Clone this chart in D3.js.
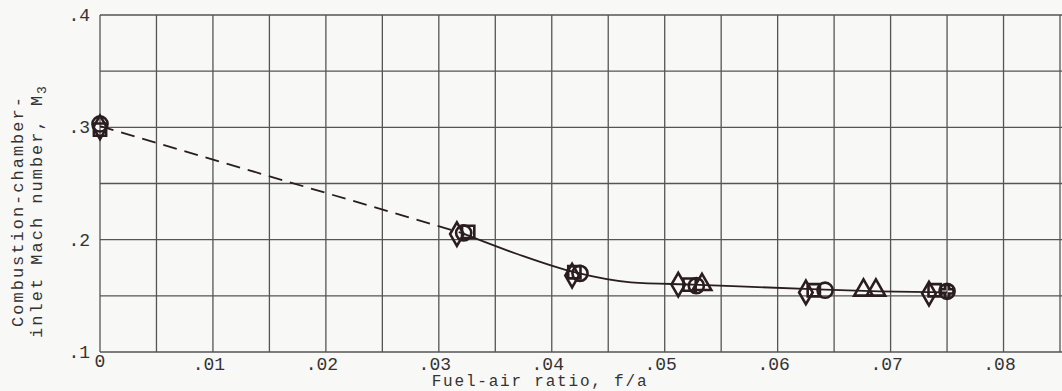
<!DOCTYPE html>
<html>
<head>
<meta charset="utf-8">
<script src="https://cdn.jsdelivr.net/npm/d3@7"></script>
<style>
  body { margin: 0; background: #f8f8f6; }
  svg { display: block; }
  text { font-family: "Liberation Mono", "DejaVu Sans Mono", monospace; fill: #333; }
</style>
</head>
<body>
<div id="vis"></div>
<script>
// declare constants
const FRAME_WIDTH = 1062;
const FRAME_HEIGHT = 391;
const MARGINS = {left: 100, right: 2, top: 15, bottom: 39};

// tick values
const X_TICKS = [0, 0.01, 0.02, 0.03, 0.04, 0.05, 0.06, 0.07, 0.08];
const Y_TICKS = [0.1, 0.2, 0.3, 0.4];

// data points (fuel-air ratio, Mach number) for each symbol
const CIRCLES = [[0, 0.303], [0.0322, 0.206], [0.0425, 0.170], [0.0528, 0.159], [0.0642, 0.155], [0.0750, 0.154]];
const SQUARES = [[0, 0.298], [0.0326, 0.207], [0.0420, 0.171], [0.0522, 0.160], [0.0632, 0.155], [0.0739, 0.155]];
const DIAMONDS = [[0, 0.300], [0.0316, 0.205], [0.0418, 0.168], [0.0512, 0.160], [0.0625, 0.153], [0.0734, 0.152]];
const TRIANGLES = [[0.0533, 0.160], [0.0676, 0.155], [0.0687, 0.155]];
const CROSSED = [[0.0750, 0.154]];

// faired curves
const DASHED_LINE = [[0, 0.301], [0.0320, 0.206]];
const SOLID_LINE = [[0.0320, 0.206], [0.0370, 0.187], [0.0420, 0.171], [0.0470, 0.162], [0.0525, 0.160],
                    [0.0630, 0.156], [0.0690, 0.154], [0.0750, 0.153]];

const INK = "#2a1d1f";

const SVG = d3.select("#vis")
  .append("svg")
    .attr("width", FRAME_WIDTH)
    .attr("height", FRAME_HEIGHT);

const X_SCALE = d3.scaleLinear().domain([0, 0.085]).range([MARGINS.left, MARGINS.left + 960]);
const Y_SCALE = d3.scaleLinear().domain([0.1, 0.4]).range([352, MARGINS.top]);

// grid
const xGrid = d3.range(0, 0.0851, 0.005);
const yGrid = d3.range(0.1, 0.401, 0.05);

SVG.append("g").selectAll("line")
  .data(xGrid)
  .enter()
  .append("line")
    .attr("x1", d => X_SCALE(d)).attr("x2", d => X_SCALE(d))
    .attr("y1", Y_SCALE(0.1)).attr("y2", Y_SCALE(0.4))
    .attr("stroke", "#555").attr("stroke-width", 1.3);

SVG.append("g").selectAll("line")
  .data(yGrid)
  .enter()
  .append("line")
    .attr("x1", X_SCALE(0)).attr("x2", FRAME_WIDTH)
    .attr("y1", d => Y_SCALE(d)).attr("y2", d => Y_SCALE(d))
    .attr("stroke", "#555").attr("stroke-width", 1.3);

// tick labels
const fmtX = d => d === 0 ? "0" : d3.format(".2f")(d).replace(/^0/, "");

SVG.append("g").selectAll("text")
  .data(X_TICKS)
  .enter()
  .append("text")
    .attr("x", d => X_SCALE(d) - (d === 0 ? 0 : 4))
    .attr("y", d => d === 0 ? 367 : 370)
    .attr("text-anchor", "middle")
    .attr("font-size", "18px")
    .text(fmtX);

SVG.append("g").selectAll("text")
  .data(Y_TICKS)
  .enter()
  .append("text")
    .attr("x", 90)
    .attr("y", d => Y_SCALE(d) + 6)
    .attr("text-anchor", "end")
    .attr("font-size", "18px")
    .text(d => d3.format(".1f")(d).replace(/^0/, ""));

// axis titles
SVG.append("text")
  .attr("x", 540)
  .attr("y", 386)
  .attr("text-anchor", "middle")
  .attr("font-size", "16px")
  .attr("letter-spacing", "1.8px")
  .text("Fuel-air ratio, f/a");

const yTitle = SVG.append("text")
  .attr("transform", "translate(0,211) rotate(-90)")
  .attr("text-anchor", "middle")
  .attr("font-size", "17px")
  .attr("letter-spacing", "2px");
yTitle.append("tspan").attr("x", 0).attr("y", 23).text("Combustion-chamber-");
yTitle.append("tspan").attr("x", 0).attr("y", 42).text("inlet Mach number, M");
yTitle.append("tspan").attr("dy", 4).attr("font-size", "13px").text("3");

// curves
const line = d3.line().x(d => X_SCALE(d[0])).y(d => Y_SCALE(d[1]));

SVG.append("path")
  .datum(DASHED_LINE)
  .attr("d", line)
  .attr("fill", "none")
  .attr("stroke", INK)
  .attr("stroke-width", 1.8)
  .attr("stroke-dasharray", "14,8");

SVG.append("path")
  .datum(SOLID_LINE)
  .attr("d", line.curve(d3.curveMonotoneX))
  .attr("fill", "none")
  .attr("stroke", INK)
  .attr("stroke-width", 1.8);

// symbols
function drawSymbols(data, type, size) {
  SVG.append("g").selectAll("path")
    .data(data)
    .enter()
    .append("path")
      .attr("transform", d => "translate(" + X_SCALE(d[0]) + "," + Y_SCALE(d[1]) + ")")
      .attr("d", d3.symbol().type(type).size(size))
      .attr("fill", "none")
      .attr("stroke", INK)
      .attr("stroke-width", 2.6);
}

drawSymbols(CIRCLES, d3.symbolCircle, 180);
drawSymbols(SQUARES, d3.symbolSquare, 150);
drawSymbols(DIAMONDS, d3.symbolDiamond, 160);
drawSymbols(TRIANGLES, d3.symbolTriangle, 150);
drawSymbols(CROSSED, d3.symbolCross, 90);
</script>
</body>
</html>
